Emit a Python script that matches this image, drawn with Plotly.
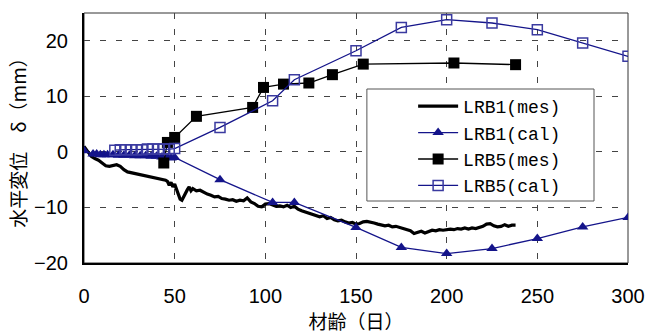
import plotly.graph_objects as go

# ---------------- data ----------------
lrb1_mes_day = [0, 1, 2, 3, 4, 6, 8, 10, 12, 14, 16, 18, 20, 22, 24, 27, 30, 33, 36, 39, 42, 45,
                46, 47, 48, 49, 50, 51, 52, 53, 54, 55, 56, 57, 58, 59, 60, 62, 64, 66, 68, 70,
                72, 74, 76, 78, 80, 82, 84, 86, 88, 90, 92, 94, 96, 98, 100, 102, 104, 106, 108,
                110, 112, 114, 116, 118, 120, 122, 124, 126, 128, 130, 132, 134, 136, 138, 140,
                142, 144, 146, 148, 150, 152, 154, 156, 158, 160, 162, 164, 166, 168, 170, 172,
                174, 176, 178, 180, 182, 184, 186, 188, 190, 192, 194, 196, 198, 200, 202, 204,
                206, 208, 210, 212, 214, 216, 218, 220, 222, 224, 226, 228, 230, 232, 234, 236, 238]
lrb1_mes_val = [1.0, 0.6, 0.0, -0.4, -0.8, -1.2, -1.5, -2.0, -2.5, -2.6, -2.4, -2.3, -2.6, -3.2, -3.6, -3.8, -4.0, -4.2, -4.4, -4.6, -4.8, -5.1,
                -5.3, -6.0, -5.5, -6.3, -5.8, -6.8, -7.5, -8.5, -8.7, -8.0, -7.2, -6.8, -6.3, -7.0, -6.6, -7.0, -6.9, -7.3, -7.6, -7.8,
                -8.1, -8.0, -8.4, -8.5, -8.7, -8.6, -8.9, -8.7, -8.8, -8.3, -9.0, -9.3, -9.8, -9.9, -9.4, -9.3, -9.6, -9.8, -9.7,
                -9.9, -9.6, -10.0, -9.8, -10.3, -10.6, -10.8, -11.0, -11.3, -11.4, -11.7, -11.5, -12.0, -11.8, -12.2, -12.4,
                -12.3, -12.6, -12.8, -12.7, -13.0, -12.9, -12.6, -12.5, -12.6, -12.8, -13.0, -13.1, -13.3, -13.2, -13.5, -13.4,
                -13.6, -13.8, -14.0, -14.2, -14.7, -14.5, -14.3, -14.6, -14.3, -14.1, -14.2, -14.0, -14.1, -14.0, -13.9, -14.0,
                -13.8, -13.9, -13.7, -13.9, -13.7, -13.8, -13.6, -13.4, -13.0, -12.9, -13.3, -13.5, -13.4, -13.1, -13.4, -13.2, -13.2]

lrb1_cal_day = [0, 5, 7, 9, 11, 13, 16, 19, 22, 25, 28, 31, 34, 37, 40, 43, 46, 48, 50,
                75, 104, 116, 150, 175, 200, 225, 250, 275, 300]
lrb1_cal_val = [0.2, -0.4, -0.4, -0.5, -0.5, -0.5, -0.5, -0.6, -0.6, -0.6, -0.7, -0.7, -0.7, -0.8, -0.8, -0.9, -1.0, -1.1, -1.0,
                -5.0, -9.1, -9.1, -13.6, -17.2, -18.3, -17.4, -15.6, -13.5, -11.8]

lrb5_mes_day = [44, 46, 50, 62, 93, 99, 110, 124, 137, 154, 204, 238]
lrb5_mes_val = [-2.0, 1.7, 2.6, 6.4, 8.0, 11.6, 12.2, 12.4, 13.9, 15.8, 16.0, 15.7]

lrb5_cal_day = [17, 20, 23, 26, 29, 32, 35, 38, 41, 44, 47, 50,
                75, 104, 116, 150, 175, 200, 225, 250, 275, 300]
lrb5_cal_val = [0.3, 0.4, 0.4, 0.4, 0.4, 0.4, 0.5, 0.5, 0.5, 0.5, 0.5, 0.6,
                4.4, 9.2, 13.0, 18.2, 22.4, 23.8, 23.2, 22.0, 19.6, 17.2]

x_ticks = [0, 50, 100, 150, 200, 250, 300]
y_ticks = [-20, -10, 0, 10, 20]

NAVY = "#14148a"
OPEN_SQ = "#3a3aa0"

fig = go.Figure()
fig.add_trace(go.Scatter(x=lrb1_mes_day, y=lrb1_mes_val, mode="lines", name="LRB1(mes)",
                         line=dict(color="black", width=3.2)))
fig.add_trace(go.Scatter(x=lrb1_cal_day, y=lrb1_cal_val, mode="lines+markers", name="LRB1(cal)",
                         line=dict(color=NAVY, width=1.3),
                         marker=dict(symbol="triangle-up", size=10, color=NAVY)))
fig.add_trace(go.Scatter(x=lrb5_mes_day, y=lrb5_mes_val, mode="lines+markers", name="LRB5(mes)",
                         line=dict(color="black", width=1.3),
                         marker=dict(symbol="square", size=11, color="black")))
fig.add_trace(go.Scatter(x=lrb5_cal_day, y=lrb5_cal_val, mode="lines+markers", name="LRB5(cal)",
                         line=dict(color=NAVY, width=1.3),
                         marker=dict(symbol="square-open", size=10, color=OPEN_SQ,
                                     line=dict(width=1.5, color=OPEN_SQ))))

tickfont = dict(family="Liberation Sans, Arial, sans-serif", size=20, color="black")
fig.update_xaxes(range=[0, 300], tickvals=x_ticks, showgrid=True, gridcolor="#444444",
                 gridwidth=1, griddash="6px,10px", zeroline=False, showline=True,
                 linecolor="black", linewidth=2, ticks="", tickfont=tickfont,
                 ticklabelstandoff=14, automargin=False,
                 title=dict(text="材齢（日）", font=dict(family="Noto Sans CJK JP", size=19, color="black"),
                            standoff=7))
fig.update_yaxes(range=[-20, 25], tickvals=y_ticks, showgrid=True, gridcolor="#444444",
                 gridwidth=1, griddash="6px,10px", zeroline=False, showline=True,
                 linecolor="black", linewidth=2, ticks="", tickfont=tickfont,
                 ticklabelstandoff=10, automargin=False,
                 title=dict(text="水平変位　δ（mm）", font=dict(family="Noto Sans CJK JP", size=19, color="black"),
                            standoff=2))

# thin frame on top/right + legend box
fig.add_shape(type="rect", xref="paper", yref="paper", x0=0, x1=1, y0=0, y1=1,
              line=dict(color="#333333", width=1), layer="below")
fig.add_shape(type="rect", xref="paper", yref="paper", x0=0.520, x1=0.9375, y0=0.248, y1=0.696,
              line=dict(color="#555555", width=1), fillcolor="white", layer="above")

fig.update_layout(
    width=658, height=336,
    margin=dict(l=84, r=30, t=13, b=73),
    plot_bgcolor="white", paper_bgcolor="white",
    legend=dict(x=0.605, y=0.70, xanchor="left", yanchor="top",
                bgcolor="rgba(0,0,0,0)", borderwidth=0,
                font=dict(family="Liberation Mono, monospace", size=18, color="black"),
                tracegroupgap=0, itemwidth=40),
)

fig.write_html("out.html", config={"displayModeBar": False},
               post_script="document.body.style.margin='0';")
